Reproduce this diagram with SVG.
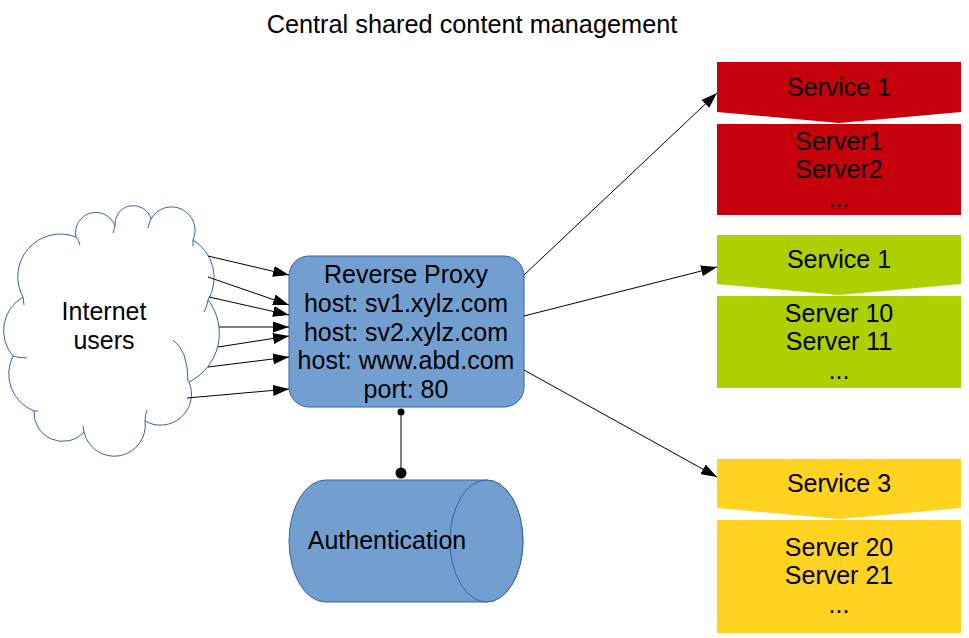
<svg xmlns="http://www.w3.org/2000/svg" width="969" height="638" viewBox="0 0 969 638">
<style>
text{font-family:"Liberation Sans",Arial,sans-serif;font-size:25px;fill:#000;text-anchor:middle}
.blue{fill:#729fcf;stroke:#3465a4;stroke-width:1}
.conn{stroke:#000;stroke-width:1;fill:none}
.tick{stroke:#3465a4;stroke-width:1;fill:none}
.red{fill:#c5000b}
.green{fill:#aecf00}
.yellow{fill:#ffd320}
</style>
<defs>
<marker id="ah" markerWidth="16" markerHeight="11" refX="16" refY="5.5" orient="auto" markerUnits="userSpaceOnUse">
<path d="M0,0 L16,5.5 L0,11 z" fill="#000"/>
</marker>
</defs>
<rect width="969" height="638" fill="#fff"/>
<g id="title"><text x="472" y="33" style="font-size:25.3px">Central shared content management</text></g>

<g id="cloud">
<path d="M23,297 A42.6,42.6 0 0 1 76,237 A20.3,20.3 0 0 1 115,226 A18.4,18.4 0 0 1 151,219 A23.5,23.5 0 0 1 193,240 A44,44 0 0 1 208,300 A54.3,54.3 0 0 1 189,382 A31,31 0 0 1 145,421 A31.02,31.02 0 0 1 84,432 A28.8,28.8 0 0 1 34,411 A39.8,39.8 0 0 1 13,356 A38.9,38.9 0 0 1 23,297 Z" fill="#fff" stroke="#3465a4" stroke-width="1"/>
<path class="tick" d="M76,237 Q79,240 80,245 M115,226 Q114,230 113,233 M151,219 Q149,223 148,228 M193,240 L193,246 M208,300 Q207,307 204,312 M188,382 Q188,350 173,340 M145,421 Q145,415 147,410 M84,432 L83,426 M34,411 L38,411 M13,356 Q20,358 27,358 M23,297 L24,305"/>
<text x="104" y="320">Internet</text>
<text x="104" y="349">users</text>
</g>

<g id="proxy">
<rect class="blue" x="289" y="256" width="235" height="151" rx="20" ry="20"/>
<text x="406" y="283">Reverse Proxy</text>
<text x="406" y="312">host: sv1.xylz.com</text>
<text x="406" y="341">host: sv2.xylz.com</text>
<text x="406" y="369">host: www.abd.com</text>
<text x="406" y="398">port: 80</text>
</g>

<g id="auth">
<path class="blue" d="M325.5,480 L486.5,480 A36.5,61 0 0 1 486.5,602 L325.5,602 A36.5,61 0 0 1 325.5,480 Z"/>
<ellipse class="blue" cx="486.5" cy="541" rx="36.5" ry="61"/>
<text x="387" y="549">Authentication</text>
</g>

<g id="service-red">
<polygon class="red" points="717,62 961,62 961,112 839,123 717,112"/>
<rect class="red" x="717" y="124" width="244" height="91"/>
<text x="839" y="96">Service 1</text>
<text x="839" y="150">Server1</text>
<text x="839" y="178">Server2</text>
<text x="839" y="207">...</text>
</g>

<g id="service-green">
<polygon class="green" points="717,235 961,235 961,284 839,295 717,284"/>
<rect class="green" x="717" y="296" width="244" height="92"/>
<text x="839" y="268">Service 1</text>
<text x="839" y="322">Server 10</text>
<text x="839" y="350">Server 11</text>
<text x="839" y="379">...</text>
</g>

<g id="service-yellow">
<polygon class="yellow" points="717,459 961,459 961,508 839,519 717,508"/>
<rect class="yellow" x="717" y="520" width="244" height="113"/>
<text x="839" y="492">Service 3</text>
<text x="839" y="556">Server 20</text>
<text x="839" y="584">Server 21</text>
<text x="839" y="613">...</text>
</g>

<g id="connectors">
<line class="conn" x1="208" y1="256" x2="289" y2="275" marker-end="url(#ah)"/>
<line class="conn" x1="208" y1="277" x2="289" y2="305" marker-end="url(#ah)"/>
<line class="conn" x1="209" y1="297" x2="289" y2="315" marker-end="url(#ah)"/>
<line class="conn" x1="219" y1="327" x2="289" y2="327" marker-end="url(#ah)"/>
<line class="conn" x1="218" y1="347" x2="289" y2="336" marker-end="url(#ah)"/>
<line class="conn" x1="208" y1="367" x2="289" y2="357" marker-end="url(#ah)"/>
<line class="conn" x1="187" y1="398" x2="289" y2="389" marker-end="url(#ah)"/>
<line class="conn" x1="524" y1="275" x2="717" y2="93" marker-end="url(#ah)"/>
<line class="conn" x1="524" y1="316" x2="717" y2="267" marker-end="url(#ah)"/>
<line class="conn" x1="524" y1="370" x2="717" y2="477" marker-end="url(#ah)"/>
<line class="conn" x1="401" y1="412" x2="401" y2="473"/>
<circle cx="401" cy="412" r="3.5" fill="#000"/>
<circle cx="401" cy="473" r="5.5" fill="#000"/>
</g>
</svg>
